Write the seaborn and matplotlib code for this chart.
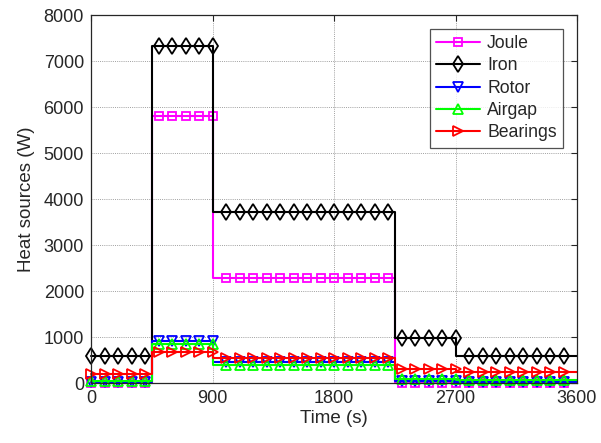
import numpy as np
import matplotlib
matplotlib.use("Agg")
import matplotlib.pyplot as plt
import seaborn as sns

# ---- data ----
seg_edges = [0, 450, 900, 2250, 2700, 3600]           # time (s) where the load changes
marker_times = list(range(0, 3600, 100))                # sample instants carrying a marker
series_names = ["Joule", "Iron", "Rotor", "Airgap", "Bearings"]
joule = [0, 5800, 2280, 0, 0]
iron = [600, 7330, 3720, 980, 590]
rotor = [30, 910, 470, 60, 30]
airgap = [60, 850, 400, 100, 70]
bearings = [200, 670, 540, 300, 240]
x_ticks = [0, 900, 1800, 2700, 3600]
y_ticks = [0, 1000, 2000, 3000, 4000, 5000, 6000, 7000, 8000]

colors = ["#ff00ff", "#000000", "#0000ff", "#00ff00", "#ff0000"]
markers = ["s", "d", "v", "^", ">"]
msizes = [5.5, 8.5, 6.5, 6.5, 7]


def step_series(levels):
    xs, ys, mk = [], [], []
    for i, lev in enumerate(levels):
        a, b = seg_edges[i], seg_edges[i + 1]
        pts = [a] + [t for t in marker_times if a < t < b] + [b]
        for j, t in enumerate(pts):
            is_start = (j == 0)
            if t in marker_times and (not is_start or t == 0):
                mk.append(len(xs))
            xs.append(t)
            ys.append(lev)
    return np.array(xs, float), np.array(ys, float), mk


sns.set_style("white")
plt.rcParams["font.family"] = ["Liberation Sans", "DejaVu Sans"]

fig = plt.figure(figsize=(6.01, 4.43), dpi=100)
ax = fig.add_axes([91 / 601, 1 - 383.3 / 443, (577 - 91) / 601, (383.3 - 15) / 443])

for name, lev, c, m, ms in zip(series_names, [joule, iron, rotor, airgap, bearings],
                               colors, markers, msizes):
    xs, ys, mk = step_series(lev)
    sns.lineplot(x=xs, y=ys, ax=ax, sort=False, estimator=None, color=c,
                 linewidth=1.5, marker=m, markevery=mk, markersize=ms,
                 markerfacecolor="none", markeredgecolor=c, markeredgewidth=1.3,
                 label=name, clip_on=False)

ax.set_xlim(0, 3600)
ax.set_ylim(0, 8000)
ax.set_xticks(x_ticks)
ax.set_yticks(y_ticks)
ax.grid(True, color="#a0a0a0", linestyle=(0, (1, 1.2)), linewidth=0.7)
ax.tick_params(direction="in", top=True, right=True, length=4, width=0.8,
               labelsize=13, colors="#262626", pad=5)
for sp in ax.spines.values():
    sp.set_color("#262626")
    sp.set_linewidth(0.9)
    sp.set_visible(True)
ax.set_xlabel("Time (s)", fontsize=13.5, color="#262626", labelpad=2)
ax.set_ylabel("Heat sources (W)", fontsize=13.5, color="#262626", labelpad=6)

leg = ax.legend(loc="upper right", bbox_to_anchor=(563 / 601, 1 - 29 / 443),
                bbox_transform=fig.transFigure, fontsize=12.7, frameon=True,
                fancybox=False, handlelength=2.5, labelspacing=0.3,
                borderpad=0.35, handletextpad=0.4, borderaxespad=0)
leg.get_frame().set_edgecolor("#262626")
leg.get_frame().set_linewidth(0.9)
for t in leg.get_texts():
    t.set_color("#262626")

fig.savefig("out.png", dpi=100)
